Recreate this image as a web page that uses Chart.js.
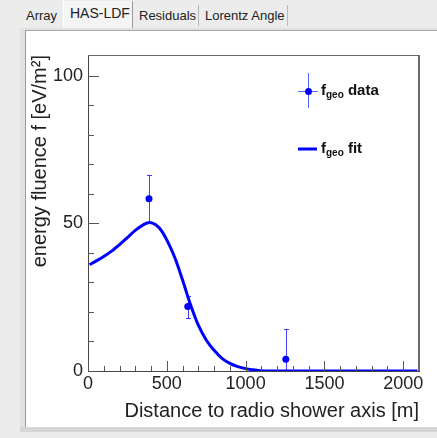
<!DOCTYPE html>
<html>
<head>
<meta charset="utf-8">
<script src="https://cdn.jsdelivr.net/npm/chart.js@4"></script>
<style>
  body { margin: 0; width: 437px; height: 438px; overflow: hidden; position: relative;
         background: #ececec; font-family: "Liberation Sans", Arial, sans-serif; }
  .tab { position: absolute; top: 5px; height: 21px; font-size: 13px; color: #222;
         line-height: 21px; padding-left: 6px; box-sizing: border-box; }
  .sel { top: 1px; height: 27px; line-height: 24px; background: #f4f4f4;
         border-left: 1px solid #fff; border-right: 1px solid #9a9a9a; font-size: 14px; }
  .sep { border-right: 1px solid #b8b8b8; }
  #panel { position: absolute; left: 20px; top: 28px; width: 417px; height: 399px;
           background: #e2e2e2; }
  #inner { position: absolute; left: 25px; top: 30px; width: 412px; height: 397px;
           background: #fff; border-left: 1px solid #9a9a9a; border-top: 1px solid #a8a8a8; }
  #bottom { position: absolute; left: 20px; top: 427px; width: 417px; height: 5px; background: #d6d6d6; }
  canvas { position: absolute; left: 0; top: 0; }
</style>
</head>
<body>
<div class="tab" style="left:20px;width:43px;">Array</div>
<div class="tab sel" style="left:63px;width:70px;">HAS-LDF</div>
<div class="tab sep" style="left:133px;width:66px;">Residuals</div>
<div class="tab sep" style="left:199px;width:89px;">Lorentz Angle</div>
<div id="panel"></div>
<div id="inner"></div>
<div id="bottom"></div>
<canvas id="ldfChart" width="437" height="438"></canvas>
<script>
// measured points with symmetric errors
const distData = [387, 633, 1255];
const fluenceData = [58.3, 21.8, 4.0];
const fluenceErr = [8.0, 3.7, 10.2];

// fitted curve
const distFit = [10, 50, 100, 150, 200, 250, 300, 350, 390, 430, 470, 510, 550, 600, 650,
    700, 750, 800, 850, 900, 950, 1000, 1050, 1100, 1200, 1400, 1600, 1800, 2000, 2090];
const fluenceFit = [36.0, 37.2, 38.8, 40.6, 42.8, 45.2, 47.6, 49.5, 50.3, 49.5, 47.2, 43.3, 38.5, 30.8, 22.5,
    15.5, 10.5, 7.0, 4.3, 2.6, 1.5, 0.8, 0.4, 0.1, 0, 0, 0, 0, 0, 0];

// tick labels
const xMajor = [0, 500, 1000, 1500, 2000];
const yMajor = [0, 50, 100];

const BLUE = '#0000ff';
const FONT = '"Liberation Sans", Arial, sans-serif';

// ROOT style inward ticks, frame, error bars and legend
const rootStyle = {
    id: 'rootStyle',
    afterDraw (chart) {
        const { ctx, chartArea: a, scales: { x, y } } = chart;
        ctx.save();
        // error bars
        ctx.beginPath();
        ctx.rect(a.left, a.top, a.right - a.left, a.bottom - a.top);
        ctx.clip();
        ctx.strokeStyle = 'rgba(0,0,255,0.75)';
        ctx.lineWidth = 1;
        for (let i = 0; i < distData.length; i++) {
            const px = Math.round(x.getPixelForValue(distData[i])) + 0.5;
            const top = Math.round(y.getPixelForValue(fluenceData[i] + fluenceErr[i])) + 0.5;
            const bot = Math.round(y.getPixelForValue(fluenceData[i] - fluenceErr[i])) + 0.5;
            ctx.beginPath();
            ctx.moveTo(px, top); ctx.lineTo(px, bot);
            ctx.moveTo(px - 2.5, top); ctx.lineTo(px + 2.5, top);
            ctx.moveTo(px - 2.5, bot); ctx.lineTo(px + 2.5, bot);
            ctx.stroke();
        }
        ctx.restore();

        ctx.save();
        // inward ticks
        ctx.fillStyle = '#555';
        const x0 = Math.round(a.left);
        const y0 = Math.round(a.bottom);
        for (let v = 0; v <= 2100; v += 100) {
            const px = Math.round(x.getPixelForValue(v));
            const len = v % 500 === 0 ? 10 : 5;
            ctx.fillRect(px, y0 - len, 1, len);
        }
        for (let v = 0; v <= 100; v += 10) {
            const py = Math.round(y.getPixelForValue(v));
            const len = v % 50 === 0 ? 11 : 6;
            ctx.fillRect(x0, py, len, 1);
        }
        // top and right frame
        ctx.fillStyle = '#6a6a6a';
        ctx.fillRect(x0, Math.round(a.top), Math.round(a.right) - x0, 1);
        ctx.fillRect(Math.round(a.right) - 1, Math.round(a.top), 2, y0 - Math.round(a.top));

        // legend
        const lx = a.right - 121;
        const ly1 = a.top + 36;
        const ly2 = a.top + 94;
        ctx.strokeStyle = 'rgba(40,60,255,0.8)';
        ctx.lineWidth = 1;
        ctx.beginPath();
        ctx.moveTo(lx + 10.5, ly1 - 18); ctx.lineTo(lx + 10.5, ly1 + 17);
        ctx.moveTo(lx, ly1 + 0.5); ctx.lineTo(lx + 20, ly1 + 0.5);
        ctx.stroke();
        ctx.fillStyle = BLUE;
        ctx.beginPath();
        ctx.arc(lx + 10.5, ly1 + 0.5, 3.5, 0, Math.PI * 2);
        ctx.fill();
        ctx.strokeStyle = BLUE;
        ctx.lineWidth = 3;
        ctx.beginPath();
        ctx.moveTo(lx, ly2); ctx.lineTo(lx + 19, ly2);
        ctx.stroke();

        ctx.fillStyle = '#111';
        ctx.textBaseline = 'alphabetic';
        const entries = [[' data', ly1 + 3.5], [' fit', ly2 + 4]];
        for (const [word, base] of entries) {
            let tx = lx + 23;
            ctx.font = 'bold 15px ' + FONT;
            ctx.fillText('f', tx, base);
            tx += ctx.measureText('f').width;
            ctx.font = 'bold 10px ' + FONT;
            ctx.fillText('geo', tx, base + 3);
            tx += ctx.measureText('geo').width;
            ctx.font = 'bold 15px ' + FONT;
            ctx.fillText(word, tx, base);
        }
        ctx.restore();
    }
};

const config = {
    type: 'scatter',
    data: {
        datasets: [
            {
                label: 'fgeo data',
                data: distData.map((d, i) => ({ x: d, y: fluenceData[i] })),
                pointRadius: 3.5,
                pointBackgroundColor: BLUE,
                pointBorderWidth: 0
            },
            {
                label: 'fgeo fit',
                type: 'line',
                data: distFit.map((d, i) => ({ x: d, y: fluenceFit[i] })),
                borderColor: BLUE,
                borderWidth: 3,
                pointRadius: 0,
                cubicInterpolationMode: 'monotone',
                fill: false
            }
        ]
    },
    options: {
        responsive: false,
        animation: false,
        devicePixelRatio: 1,
        layout: { padding: { left: 0, top: 55, right: 18, bottom: 0 } },
        plugins: { legend: { display: false }, tooltip: { enabled: false } },
        scales: {
            x: {
                type: 'linear',
                min: 0,
                max: 2100,
                grid: { display: false, drawTicks: false },
                border: { display: true, color: '#444', width: 1 },
                afterBuildTicks: (s) => { s.ticks = xMajor.map(v => ({ value: v })); },
                afterFit: (s) => { s.height = 67; },
                ticks: {
                    padding: 2,
                    color: '#222',
                    maxRotation: 0,
                    callback: (v) => String(v),
                    font: { size: 18, family: FONT }
                },
                title: {
                    display: true,
                    text: 'Distance to radio shower axis [m]',
                    align: 'end',
                    color: '#222',
                    padding: { top: 0, bottom: 15 },
                    font: { size: 20, family: FONT }
                }
            },
            y: {
                min: 0,
                max: 107,
                grid: { display: false, drawTicks: false },
                border: { display: true, color: '#444', width: 1 },
                afterBuildTicks: (s) => { s.ticks = yMajor.map(v => ({ value: v })); },
                afterFit: (s) => { s.width = 88; },
                ticks: {
                    padding: 5,
                    color: '#222',
                    callback: (v) => String(v),
                    font: { size: 18, family: FONT }
                },
                title: {
                    display: true,
                    text: 'energy fluence f [eV/m²]',
                    align: 'end',
                    color: '#222',
                    padding: { top: 28, bottom: 0 },
                    font: { size: 20, family: FONT }
                }
            }
        }
    },
    plugins: [rootStyle]
};

const myChart = new Chart(document.getElementById('ldfChart'), config);
</script>
</body>
</html>
